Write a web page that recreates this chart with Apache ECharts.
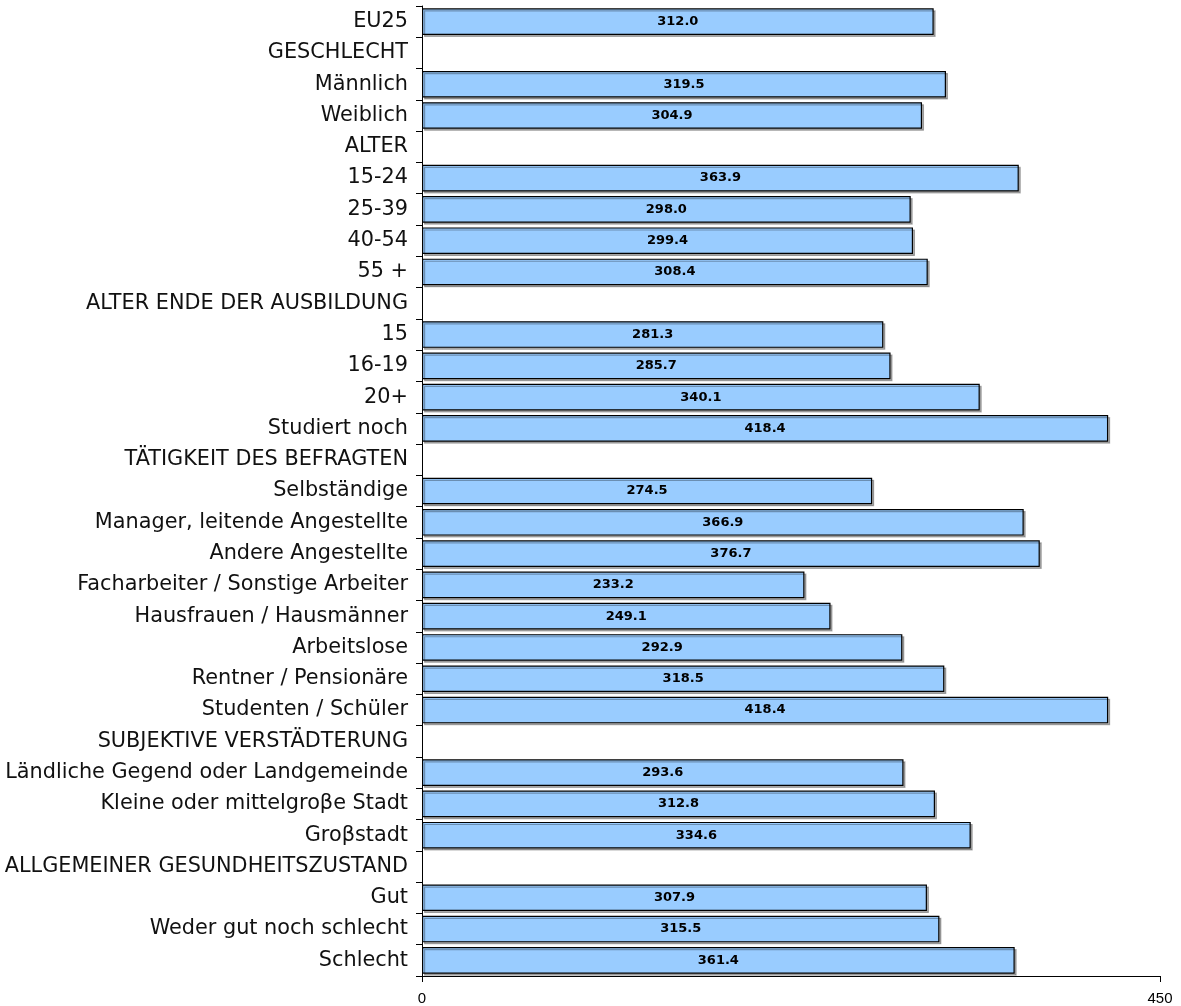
<!DOCTYPE html>
<html><head><meta charset="utf-8">
<script src="https://cdn.jsdelivr.net/npm/echarts@6/dist/echarts.min.js"></script>
<style>html,body{margin:0;padding:0;background:#fff}#c{width:1181px;height:1006px}</style>
</head><body><div id="c"></div>
<script>
const categories = ["EU25","GESCHLECHT","Männlich","Weiblich","ALTER","15-24","25-39","40-54","55 +","ALTER ENDE DER AUSBILDUNG","15","16-19","20+","Studiert noch","TÄTIGKEIT DES BEFRAGTEN","Selbständige","Manager, leitende Angestellte","Andere Angestellte","Facharbeiter / Sonstige Arbeiter","Hausfrauen / Hausmänner","Arbeitslose","Rentner / Pensionäre","Studenten / Schüler","SUBJEKTIVE VERSTÄDTERUNG","Ländliche Gegend oder Landgemeinde","Kleine oder mittelgroβe Stadt","Groβstadt","ALLGEMEINER GESUNDHEITSZUSTAND","Gut","Weder gut noch schlecht","Schlecht"];
const values = [312.0,null,319.5,304.9,null,363.9,298.0,299.4,308.4,null,281.3,285.7,340.1,418.4,null,274.5,366.9,376.7,233.2,249.1,292.9,318.5,418.4,null,293.6,312.8,334.6,null,307.9,315.5,361.4];
const axisMin = 0, axisMax = 450;

const chart = echarts.init(document.getElementById('c'), null, {renderer:'canvas'});
chart.setOption({
  animation:false,
  grid:{left:422,right:21,top:6,bottom:30,containLabel:false},
  xAxis:{type:'value',min:axisMin,max:axisMax,interval:450,
    axisLine:{show:true,lineStyle:{color:'#000',width:1}},
    axisTick:{show:true,length:6,lineStyle:{color:'#000'}},
    axisLabel:{color:'#000',fontFamily:'Liberation Sans, Arial',fontSize:15,margin:15},
    splitLine:{show:false}},
  yAxis:{type:'category',data:categories,inverse:true,
    axisLine:{show:true,lineStyle:{color:'#000',width:1}},
    axisTick:{show:true,length:6,alignWithLabel:false,lineStyle:{color:'#000'}},
    axisLabel:{color:'#111',fontFamily:'DejaVu Sans, Verdana',fontSize:20.8,margin:14}},
  series:[{type:'bar',data:values,barCategoryGap:'15%',
    itemStyle:{color:'#99CCFF',borderColor:'#000',borderWidth:1.2,
      shadowColor:'rgba(0,0,0,0.3)',shadowOffsetX:2,shadowOffsetY:2,shadowBlur:0},
    label:{show:true,position:'inside',color:'#000',fontWeight:'bold',
      fontFamily:'DejaVu Sans, Verdana',fontSize:13,
      formatter:p=>p.value==null?'':Number(p.value).toFixed(1)}}]
});
</script></body></html>
